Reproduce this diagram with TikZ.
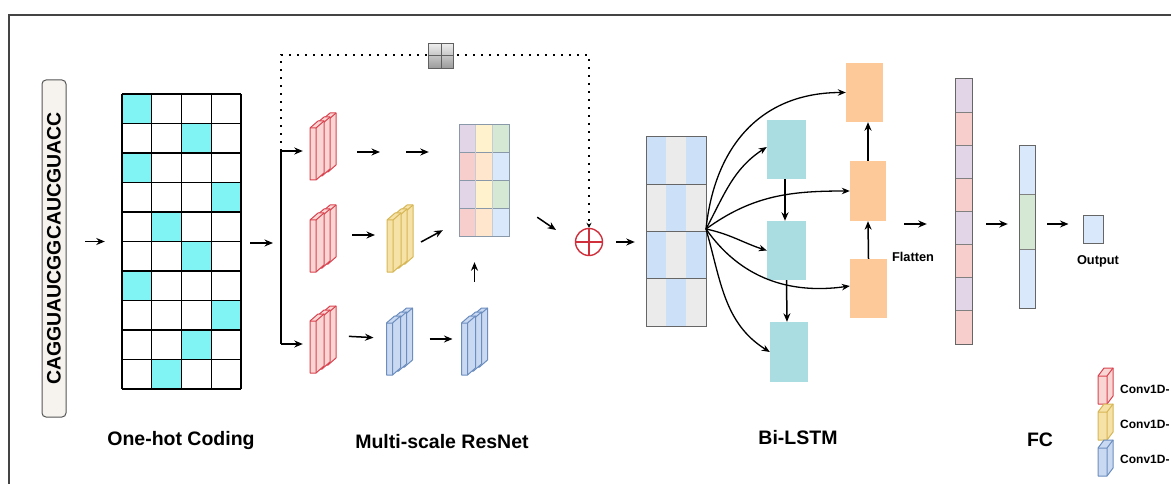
\documentclass[tikz,border=0pt]{standalone}
\usepackage{fontspec}
\setmainfont{Liberation Sans}
\usetikzlibrary{arrows.meta,calc}
\definecolor{hotc}{HTML}{80F4F4}
\definecolor{seqf}{HTML}{F6F3EE}
\definecolor{cpur}{HTML}{E1D5E7}
\definecolor{cyel}{HTML}{FFF2CC}
\definecolor{cgrn}{HTML}{D5E8D4}
\definecolor{cred}{HTML}{F8CECC}
\definecolor{corg}{HTML}{FFE6CC}
\definecolor{cblu}{HTML}{DAE8FC}
\definecolor{lblu}{HTML}{CCE0F8}
\definecolor{lgry}{HTML}{EBEBEB}
\definecolor{lstmc}{HTML}{A9DDE1}
\definecolor{lstmo}{HTML}{FDC999}
\definecolor{redS}{HTML}{D9434F}
\definecolor{redF}{HTML}{F9D6D4}
\definecolor{yelS}{HTML}{D6B656}
\definecolor{yelF}{HTML}{F6E1A6}
\definecolor{bluS}{HTML}{6C8EBF}
\definecolor{bluF}{HTML}{C9D9F1}
\definecolor{plusc}{HTML}{D0303C}
\definecolor{cellb}{HTML}{8A99AA}
\definecolor{frame}{HTML}{444444}
\definecolor{icond}{HTML}{606060}
\definecolor{iconl}{HTML}{EEEEEE}
\definecolor{icondk}{HTML}{9A9A9A}
\definecolor{seqd}{HTML}{555555}
\newcommand\myBig{\fontsize{19.5}{22}\selectfont\bfseries}
\newcommand\mySmall{\fontsize{12.8}{15}\selectfont\bfseries}
\newcommand\myLeg{\fontsize{12}{14}\selectfont\bfseries}
\newcommand\myslab[8]{%
 \filldraw[fill=#7,draw=#8,line width=1,line join=round] ({#1},{#2}) -- ({#1+#3},{#2}) -- ({#1+#3+#5},{#2-#6}) -- ({#1+#3+#5},{#2-#4-#6}) -- ({#1+#5},{#2-#4-#6}) -- ({#1},{#2-#4}) -- cycle;
 \draw[draw=#8,line width=1,line join=round] ({#1},{#2-#4}) -- ({#1+#3},{#2-#4}) -- ({#1+#3+#5},{#2-#4-#6}) ({#1+#3},{#2-#4}) -- ({#1+#3},{#2});
}
\newcommand\mystack[5]{%
 \node[stk] (#1) at (#2,#3) {};
 \myslab{#2-1}{#3+25.5}{6}{52}{8}{7}{#4}{#5}
 \myslab{#2-7}{#3+29.5}{6}{52}{8}{7}{#4}{#5}
 \myslab{#2-13}{#3+33.5}{6}{52}{8}{7}{#4}{#5}
}
\tikzset{
 arr/.style={-{Stealth[length=8.5pt,width=7pt]}, line width=1.5},
 carr/.style={-{Stealth[length=8pt,width=6.5pt]}, line width=1.3},
 dotl/.style={line width=1.8, dash pattern=on 1.8pt off 6.2pt, -{Stealth[length=5pt,width=5pt]}},
 stk/.style={inner sep=0, minimum width=26, minimum height=67},
 box/.style={inner sep=0},
 lab/.style={font=\myBig, inner sep=0},
}
\begin{document}
\begin{tikzpicture}[x=1pt,y=-1pt]
\useasboundingbox (0,0) rectangle (1171,484);
% frame
\draw[line width=1.5, frame] (9,484) -- (9,15) -- (1171,15);

% sequence
\node[draw=seqd, line width=1, fill=seqf, rounded corners=4, rotate=90, minimum width=337, minimum height=24, inner sep=0, font=\myBig] (seq) at (54,248.5) {CAGGUAUCGGCAUCGUACC};

% one-hot grid
\node[box, minimum width=119, minimum height=295] (grid) at (181.5,241.5) {};
\foreach \r/\c in {1/1,2/3,3/1,4/4,5/2,6/3,7/1,8/4,9/3,10/2}
  \fill[hotc] ({122+(\c-1)*29.75},{94+(\r-1)*29.5}) rectangle ++(29.75,29.5);
\foreach \i in {0,...,4} \draw[line width=1.3] ({122+\i*29.75},94) -- ({122+\i*29.75},389);
\foreach \j in {0,...,10} \draw[line width=1.3] (122,{94+\j*29.5}) -- (241,{94+\j*29.5});
\node[lab] (lonehot) at (181,440) {One-hot Coding};

\draw[arr, shorten <=31pt, shorten >=17pt] (seq.center |- grid.west) -- (grid.west);

% branch
\coordinate (br) at (281,243);
\coordinate (brT) at (281,151);
\coordinate (brB) at (281,344);
\coordinate (dA) at (281,55);
\coordinate (dB) at (589,55);
\draw[arr, shorten <=9pt, shorten >=8pt] (grid.east |- br) -- (br);
\draw[line width=1.4] (brT) -- (brB);

% stacks
\mystack{rs1}{323}{146.5}{redF}{redS}
\mystack{rs2}{323}{238.5}{redF}{redS}
\mystack{rs3}{323}{339.5}{redF}{redS}
\mystack{ys}{400}{238.5}{yelF}{yelS}
\mystack{bs1}{399.5}{341.5}{bluF}{bluS}
\mystack{bs2}{474.5}{341.5}{bluF}{bluS}

\draw[arr, shorten >=7pt] (brT) -- (brT -| rs1.west);
\draw[arr, shorten >=7pt] (brB) -- (brB -| rs3.west);

% concat block
\node[box, minimum width=50, minimum height=111] (cat) at (484,180.5) {};
\foreach \r/\a/\b/\c in {0/cpur/cyel/cgrn,1/cred/corg/cblu,2/cpur/cyel/cgrn,3/cred/corg/cblu}{
  \fill[\a] (459,{125+\r*27.75}) rectangle ++(16.67,27.75);
  \fill[\b] (475.67,{125+\r*27.75}) rectangle ++(16.67,27.75);
  \fill[\c] (492.33,{125+\r*27.75}) rectangle ++(16.67,27.75);
}
\foreach \j in {1,2,3} \draw[cellb, line width=0.8] (459,{125+\j*27.75}) -- (509,{125+\j*27.75});
\draw[cellb!50, line width=0.5] (475.67,125) -- (475.67,236) (492.33,125) -- (492.33,236);
\draw[cellb, line width=1] (459,125) rectangle (509,236);

% resnet arrows
\coordinate (gap) at (393,152);
\draw[arr, shorten <=21pt, shorten >=13pt] (rs1.east |- gap) -- (gap);
\draw[arr, shorten <=13pt, shorten >=30pt] (gap) -- (gap -| cat.west);
\draw[arr, shorten <=29pt, shorten >=25pt] ([yshift=3.5pt]rs2.center) -- ([yshift=3.5pt]ys.center);
\draw[arr] ([shift={(21,3.5)}]ys.center) -- ([shift={(-16,-6)}]cat.south west);
\draw[arr, shorten <=26pt, shorten >=26pt] ([yshift=4.5pt]rs3.center) -- ([yshift=2.5pt]bs1.center);
\draw[arr, shorten <=30pt, shorten >=22pt] ([yshift=2.5pt]bs1.center) -- ([yshift=2.5pt]bs2.center);
\draw[arr, shorten <=26pt, shorten >=26pt] (bs2.north) -- (bs2.north |- cat.south);

% plus
\node[circle, draw=plusc, line width=1.4, minimum size=27, inner sep=0] (plus) at (589,242) {};
\draw[plusc, line width=1.4] (plus.north) -- (plus.south) (plus.west) -- (plus.east);
\draw[arr] ([shift={(28,-19)}]cat.south east) -- ([shift={(-33,-12)}]plus.center);

% dotted skip
\draw[dotl] (brT) -- (dA) -- (dB) -- (plus.north);
\node[draw=icond, line width=1, minimum size=25, inner sep=0, top color=iconl, bottom color=icondk] (icon) at (441,56) {};
\draw[icond, line width=1] (icon.north) -- (icon.south) (icon.west) -- (icon.east);

\node[lab] (lres) at (442,442) {Multi-scale ResNet};

% Bi-LSTM input block
\node[box, minimum width=60, minimum height=189] (bl) at (676,231.5) {};
\foreach \r/\a/\b in {0/lblu/lgry,1/lgry/lblu,2/lblu/lgry,3/lgry/lblu}{
  \fill[\a] (646,{137+\r*47.25}) rectangle ++(20,47.25);
  \fill[\b] (666,{137+\r*47.25}) rectangle ++(20,47.25);
  \fill[\a] (686,{137+\r*47.25}) rectangle ++(20,47.25);
}
\foreach \j in {1,2,3} \draw[gray!80!black, line width=0.8] (646,{137+\j*47.25}) -- (706,{137+\j*47.25});
\draw[gray!80!black, line width=1] (646,137) rectangle (706,326);
\draw[arr, shorten <=13pt, shorten >=11pt] (plus.east) -- (plus.east -| bl.west);

% LSTM cells
\node[box, fill=lstmc, minimum width=39, minimum height=59] (c1) at (786.5,149.5) {};
\node[box, fill=lstmc, minimum width=39, minimum height=59] (c2) at (786.5,250.5) {};
\node[box, fill=lstmc, minimum width=38, minimum height=60] (c3) at (789,352) {};
\node[box, fill=lstmo, minimum width=37, minimum height=59] (o1) at (864.5,92.5) {};
\node[box, fill=lstmo, minimum width=36, minimum height=60] (o2) at (868,191) {};
\node[box, fill=lstmo, minimum width=37, minimum height=59] (o3) at (868.5,288.5) {};

\coordinate (fan) at (706,229);
\draw[carr] (fan) to[out=84,in=180,looseness=1.1] (o1.west);
\draw[carr] (fan) to[out=62,in=213] ([yshift=2.5pt]c1.west);
\draw[carr] (fan) to[out=36,in=180] (o2.west);
\draw[carr] (fan) to[out=-12,in=162] (c2.west);
\draw[carr] (fan) to[out=-55,in=188] ([yshift=2.5pt]o3.west);
\draw[carr] (fan) to[out=-74,in=148] (c3.west);

\draw[arr] ([xshift=-1.5pt]c1.south) -- ([xshift=-1.5pt]c2.north);
\draw[arr] ([xshift=0pt]c2.south) -- ([xshift=-2pt]c3.north);
\draw[arr] (o3.north) -- (o2.north |- o2.south);
\draw[arr] (o2.north) -- (o2.north |- o1.south);

\node[lab] (llstm) at (798,438) {Bi-LSTM};

% flatten
\node[box, minimum width=17, minimum height=265] (fl) at (963.5,211.5) {};
\foreach \k in {0,2,4,6} {
  \fill[cpur] (955,{79+\k*33.125}) rectangle ++(17,33.125);
  \fill[cred] (955,{79+(\k+1)*33.125}) rectangle ++(17,33.125);
}
\foreach \k in {1,...,7} \draw[gray, line width=0.8] (955,{79+\k*33.125}) -- (972,{79+\k*33.125});
\draw[gray!80!black, line width=1] (955,79) rectangle (972,344);

% FC
\node[box, minimum width=16, minimum height=162] (fc) at (1027,227) {};
\fill[cblu] (1019,146) rectangle (1035,194);
\fill[cgrn] (1019,194) rectangle (1035,249);
\fill[cblu] (1019,249) rectangle (1035,308);
\draw[gray, line width=0.8] (1019,194) -- (1035,194) (1019,249) -- (1035,249);
\draw[gray!80!black, line width=1] (1019,146) rectangle (1035,308);

\node[box, draw=gray!80!black, line width=1, fill=cblu, minimum width=20, minimum height=27] (out) at (1093,229.5) {};

\draw[arr, shorten <=18pt, shorten >=28pt] ([yshift=3pt]o2.east |- fc.west) -- ([yshift=3pt]fl.west |- fc.west);
\draw[arr, shorten <=14pt, shorten >=11pt] ([yshift=3pt]fl.east |- fc.west) -- ([yshift=3pt]fc.west);
\draw[arr, shorten <=12pt, shorten >=14pt] ([yshift=3pt]fc.east) -- ([yshift=3pt]fc.east -| out.west);

\node[font=\mySmall, inner sep=0] (lflat) at (913,257) {Flatten};
\node[font=\mySmall, inner sep=0] (lout) at (1098,261) {Output};
\node[lab] (lfc) at (1040,440) {FC};

% legend
\myslab{1098}{404}{9}{28}{6}{8}{redF}{redS}
\myslab{1098}{440}{9}{28}{6}{8}{yelF}{yelS}
\myslab{1098}{476}{9}{28}{6}{8}{bluF}{bluS}
\node[font=\myLeg, anchor=west, inner sep=0] (leg1) at (1120,389) {Conv1D-};
\node[font=\myLeg, anchor=west, inner sep=0] (leg2) at (1120,424) {Conv1D-};
\node[font=\myLeg, anchor=west, inner sep=0] (leg3) at (1120,459) {Conv1D-};
\end{tikzpicture}
\end{document}
